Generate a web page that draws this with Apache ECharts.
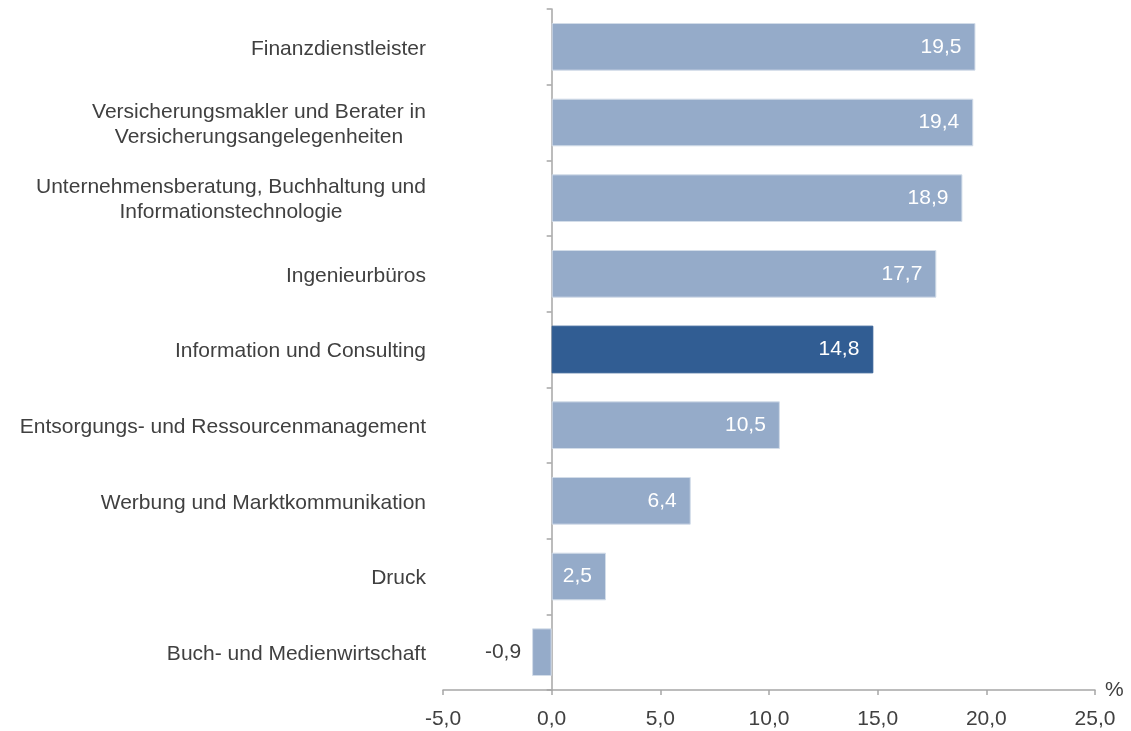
<!DOCTYPE html>
<html>
<head>
<meta charset="utf-8">
<script src="https://cdn.jsdelivr.net/npm/echarts@6/dist/echarts.min.js"></script>
<style>
  html, body { margin: 0; padding: 0; background: #fff; }
  #chart { width: 1131px; height: 731px; }
</style>
</head>
<body>
<div id="chart"></div>
<script>
// Branchen (von oben nach unten)
var categories = [
  'Finanzdienstleister',
  'Versicherungsmakler und Berater in\nVersicherungsangelegenheiten',
  'Unternehmensberatung, Buchhaltung und\nInformationstechnologie',
  'Ingenieurbüros',
  'Information und Consulting',
  'Entsorgungs- und Ressourcenmanagement',
  'Werbung und Marktkommunikation',
  'Druck',
  'Buch- und Medienwirtschaft'
];
var values = [19.5, 19.4, 18.9, 17.7, 14.8, 10.5, 6.4, 2.5, -0.9];
var highlightIndex = 4;
var xTicks = [-5, 0, 5, 10, 15, 20, 25];

var FONT = '"Liberation Sans", Arial, sans-serif';
var FS = 21;
var textColor = '#404040';
var axisColor = '#a6a6a6';

var chart = echarts.init(document.getElementById('chart'));

// Breite fuer zentrierte zweizeilige Beschriftungen
var ctx = document.createElement('canvas').getContext('2d');
ctx.font = FS + 'px ' + FONT;
function blockWidth(val) {
  var w = 0;
  val.split('\n').forEach(function (l) { w = Math.max(w, ctx.measureText(l).width); });
  return Math.ceil(w);
}
function fmt(v) {
  return v.toFixed(1).replace('.', ',');
}

var richStyles = {};
categories.forEach(function (val) {
  if (val.indexOf('\n') < 0) return;
  var w = blockWidth(val);
  richStyles['c' + w] = {
    width: w, align: 'center',
    color: textColor, fontSize: FS, fontFamily: FONT, lineHeight: 25
  };
});

var barData = values.map(function (v, i) {
  var item = { value: v };
  if (i === highlightIndex) {
    item.itemStyle = { color: '#315d93', borderColor: '#315d93' };
  }
  if (v < 0) {
    item.label = { position: 'left', color: textColor, distance: 11 };
  }
  return item;
});

option = {
  animation: false,
  grid: {
    left: 443,
    right: 36,
    top: 9,
    bottom: 41,
    containLabel: false,
    outerBoundsMode: 'none'
  },
  xAxis: {
    type: 'value',
    min: xTicks[0],
    max: xTicks[xTicks.length - 1],
    interval: 5,
    name: '%',
    nameGap: 10,
    nameMoveOverlap: false,
    nameTextStyle: { color: textColor, fontSize: FS, fontFamily: FONT, verticalAlign: 'middle', padding: [0, 0, 4, 0] },
    axisLine: { show: true, onZero: false, lineStyle: { color: axisColor, width: 1.5 } },
    axisTick: { show: true, length: 5, lineStyle: { color: axisColor, width: 1.5 } },
    splitLine: { show: false },
    axisLabel: {
      color: textColor,
      fontSize: FS,
      fontFamily: FONT,
      margin: 19,
      formatter: function (v) { return fmt(v); }
    }
  },
  yAxis: [
    {
      // nur Beschriftungen am linken Rand
      type: 'category',
      data: categories,
      inverse: true,
      axisLine: { show: false, onZero: false },
      axisTick: { show: false },
      axisLabel: {
        margin: 17,
        padding: [4, 0, 0, 0],
        color: textColor,
        fontSize: FS,
        fontFamily: FONT,
        lineHeight: 25,
        formatter: function (val) {
          if (val.indexOf('\n') < 0) return val;
          var w = blockWidth(val);
          return val.split('\n').map(function (l) { return '{c' + w + '|' + l + '}'; }).join('\n');
        },
        rich: richStyles
      }
    },
    {
      // Achsenlinie bei 0 mit Teilstrichen
      type: 'category',
      data: categories,
      inverse: true,
      position: 'left',
      axisLine: { show: true, onZero: true, onZeroAxisIndex: 0, lineStyle: { color: axisColor, width: 1.5 } },
      axisTick: { show: true, length: 5, lineStyle: { color: axisColor, width: 1.5 } },
      axisLabel: { show: false }
    }
  ],
  series: [
    {
      type: 'bar',
      yAxisIndex: 0,
      data: barData,
      barWidth: '63%',
      itemStyle: { color: '#95abc9', borderColor: '#d3dde9', borderWidth: 1 },
      label: {
        show: true,
        position: 'insideRight',
        distance: 14,
        color: '#ffffff',
        fontSize: FS,
        fontFamily: FONT,
        formatter: function (p) { return fmt(p.value); }
      }
    }
  ]
};

chart.setOption(option);
</script>
</body>
</html>
